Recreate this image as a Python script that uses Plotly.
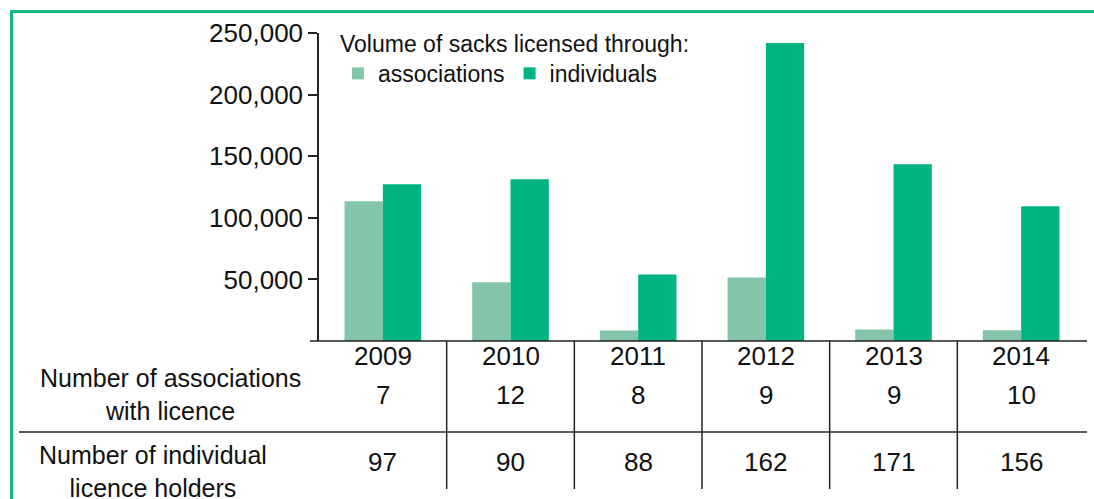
import plotly.graph_objects as go

years = ["2009", "2010", "2011", "2012", "2013", "2014"]
assoc_volume = [113400, 47600, 8500, 51600, 9300, 8800]
indiv_volume = [127200, 131300, 54000, 241900, 143500, 109300]
n_associations = [7, 12, 8, 9, 9, 10]
n_individuals = [97, 90, 88, 162, 171, 156]
y_ticks = [50000, 100000, 150000, 200000, 250000]

W, H = 1094, 499
ML, MR, MT, MB = 319, 9, 33, 158
PW, PH = W - ML - MR, H - MT - MB

def px(x):
    return (x - ML) / PW

def py(y):
    return (H - MB - y) / PH

C_ASSOC = "#84c4a8"
C_INDIV = "#00b383"
C_BORDER = "#14b887"
C_LINE = "#222222"
C_TEXT = "#111111"
FONT = "Liberation Sans, Arial, sans-serif"

fig = go.Figure()
fig.add_bar(x=years, y=assoc_volume, name="associations", marker=dict(color=C_ASSOC, line=dict(width=0)))
fig.add_bar(x=years, y=indiv_volume, name="individuals", marker=dict(color=C_INDIV, line=dict(width=0)))

shapes = []
# green frame
shapes.append(dict(type="line", xref="paper", yref="paper", x0=px(10), x1=px(W + 5), y0=py(11.5), y1=py(11.5),
                   line=dict(color=C_BORDER, width=3)))
shapes.append(dict(type="line", xref="paper", yref="paper", x0=px(11.5), x1=px(11.5), y0=py(10), y1=py(H + 5),
                   line=dict(color=C_BORDER, width=3)))
# baseline
shapes.append(dict(type="line", xref="paper", yref="paper", x0=px(310), x1=px(1087), y0=0, y1=0,
                   line=dict(color=C_LINE, width=1.5)))
# row separator
shapes.append(dict(type="line", xref="paper", yref="paper", x0=px(19), x1=px(1087), y0=py(432), y1=py(432),
                   line=dict(color=C_LINE, width=1.5)))
# column separators
for i in range(len(years) - 1):
    shapes.append(dict(type="line", xref="x", yref="paper", x0=i + 0.5, x1=i + 0.5, y0=0, y1=py(489),
                       line=dict(color=C_LINE, width=1.5)))

annotations = []
for i, (yr, a, n) in enumerate(zip(years, n_associations, n_individuals)):
    annotations.append(dict(x=i, xref="x", y=py(355.5), yref="paper", text=yr, showarrow=False,
                            yanchor="middle", font=dict(size=26, color=C_TEXT)))
    annotations.append(dict(x=i, xref="x", y=py(395), yref="paper", text=str(a), showarrow=False,
                            yanchor="middle", font=dict(size=26, color=C_TEXT)))
    annotations.append(dict(x=i, xref="x", y=py(462), yref="paper", text=str(n), showarrow=False,
                            yanchor="middle", font=dict(size=26, color=C_TEXT)))
annotations.append(dict(x=px(170), xref="paper", y=py(394), yref="paper",
                        text="Number of associations<br>with licence", showarrow=False, align="center",
                        xanchor="center", yanchor="middle", font=dict(size=25, color=C_TEXT)))
annotations.append(dict(x=px(153), xref="paper", y=py(471), yref="paper",
                        text="Number of individual<br>licence holders", showarrow=False, align="center",
                        xanchor="center", yanchor="middle", font=dict(size=25, color=C_TEXT)))

fig.update_layout(
    width=W, height=H,
    margin=dict(l=ML, r=MR, t=MT, b=MB, pad=0),
    paper_bgcolor="white", plot_bgcolor="white",
    font=dict(family=FONT, color=C_TEXT, size=25),
    barmode="group", bargap=0.4, bargroupgap=0,
    showlegend=True,
    legend=dict(
        orientation="h", x=px(338), y=py(22), xanchor="left", yanchor="top",
        title=dict(text="Volume of sacks licensed through:", side="top", font=dict(size=23)),
        font=dict(size=23), bgcolor="rgba(0,0,0,0)", itemclick=False, itemdoubleclick=False,
    ),
    xaxis=dict(type="category", range=[-0.5, 5.5], showline=False, ticks="", showgrid=False,
               showticklabels=False),
    yaxis=dict(range=[0, 250000], tickvals=y_ticks, tickformat=",d", showline=True, linecolor=C_LINE,
               linewidth=1.5, ticks="outside", ticklen=9, tickwidth=1.5, tickcolor=C_LINE,
               showgrid=False, zeroline=False, tickfont=dict(size=26, color=C_TEXT)),
    shapes=shapes,
    annotations=annotations,
)

fig.write_html("out.html", config={"displayModeBar": False},
               post_script="document.body.style.margin='0';document.body.style.overflow='hidden';")
